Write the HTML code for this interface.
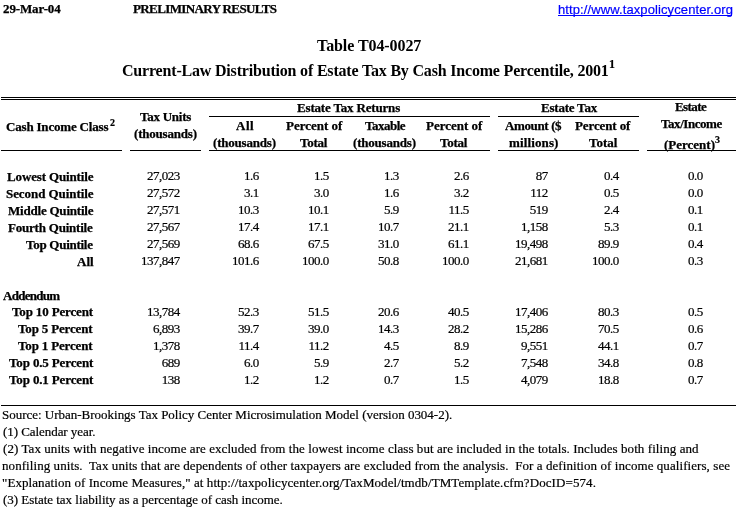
<!DOCTYPE html>
<html><head><meta charset="utf-8"><style>
html,body{margin:0;padding:0;background:#fff;width:736px;height:508px;overflow:hidden;position:relative}
body{will-change:transform}
div{position:absolute;white-space:nowrap;color:#000}
.h{height:1px;background:#000}
</style></head><body>

<div class='h' style='left:558px;top:15px;width:174px;height:1px;background:#0000ff'></div>
<div class='h' style='left:1px;top:97px;width:735px;height:1px'></div>
<div class='h' style='left:1px;top:99px;width:735px;height:1px'></div>
<div class='h' style='left:209px;top:116px;width:281px;height:1px'></div>
<div class='h' style='left:498px;top:116px;width:141px;height:1px'></div>
<div class='h' style='left:1px;top:150px;width:121px;height:1px'></div>
<div class='h' style='left:130px;top:150px;width:71px;height:1px'></div>
<div class='h' style='left:209px;top:150px;width:281px;height:1px'></div>
<div class='h' style='left:498px;top:150px;width:141px;height:1px'></div>
<div class='h' style='left:647px;top:150px;width:89px;height:1px'></div>
<div class='h' style='left:1px;top:405px;width:735px;height:1px'></div>
<div style="left:3.00px;top:2px;font-family:'Liberation Serif', serif;font-size:13px;line-height:13px;font-weight:bold;letter-spacing:-0.125px;-webkit-text-stroke-width:0.25px;">29-Mar-04</div>
<div style="left:133.00px;top:2px;font-family:'Liberation Serif', serif;font-size:13px;line-height:13px;font-weight:bold;letter-spacing:-0.611px;-webkit-text-stroke-width:0.25px;">PRELIMINARY RESULTS</div>
<div style="left:558.00px;top:3px;font-family:'Liberation Sans', sans-serif;font-size:13px;line-height:13px;font-weight:normal;letter-spacing:0.103px;-webkit-text-stroke-width:0.2px;color:#0000ff;">http://www.taxpolicycenter.org</div>
<div style="left:317.00px;top:38px;font-family:'Liberation Serif', serif;font-size:16px;line-height:16px;font-weight:bold;letter-spacing:-0.077px;">Table T04-0027</div>
<div style="left:122.00px;top:63px;font-family:'Liberation Serif', serif;font-size:16px;line-height:16px;font-weight:bold;letter-spacing:-0.188px;">Current-Law Distribution of Estate Tax By Cash Income Percentile, 2001</div>
<div style="left:609.00px;top:58px;font-family:'Liberation Serif', serif;font-size:12px;line-height:12px;font-weight:bold;letter-spacing:0.000px;-webkit-text-stroke-width:0.2px;">1</div>
<div style="left:6.00px;top:120px;font-family:'Liberation Serif', serif;font-size:13px;line-height:13px;font-weight:bold;letter-spacing:-0.188px;-webkit-text-stroke-width:0.25px;">Cash Income Class</div>
<div style="left:110.00px;top:118px;font-family:'Liberation Serif', serif;font-size:10px;line-height:10px;font-weight:bold;letter-spacing:0.000px;-webkit-text-stroke-width:0.2px;">2</div>
<div style="left:140.00px;top:110px;font-family:'Liberation Serif', serif;font-size:13px;line-height:13px;font-weight:bold;letter-spacing:-0.250px;-webkit-text-stroke-width:0.25px;">Tax Units</div>
<div style="left:134.00px;top:127px;font-family:'Liberation Serif', serif;font-size:13px;line-height:13px;font-weight:bold;letter-spacing:-0.200px;-webkit-text-stroke-width:0.25px;">(thousands)</div>
<div style="left:297.00px;top:101px;font-family:'Liberation Serif', serif;font-size:13px;line-height:13px;font-weight:bold;letter-spacing:-0.176px;-webkit-text-stroke-width:0.25px;">Estate Tax Returns</div>
<div style="left:236.00px;top:119px;font-family:'Liberation Serif', serif;font-size:13px;line-height:13px;font-weight:bold;letter-spacing:0.500px;-webkit-text-stroke-width:0.25px;">All</div>
<div style="left:213.00px;top:136px;font-family:'Liberation Serif', serif;font-size:13px;line-height:13px;font-weight:bold;letter-spacing:-0.200px;-webkit-text-stroke-width:0.25px;">(thousands)</div>
<div style="left:286.00px;top:119px;font-family:'Liberation Serif', serif;font-size:13px;line-height:13px;font-weight:bold;letter-spacing:0.000px;-webkit-text-stroke-width:0.25px;">Percent of</div>
<div style="left:300.00px;top:136px;font-family:'Liberation Serif', serif;font-size:13px;line-height:13px;font-weight:bold;letter-spacing:-0.250px;-webkit-text-stroke-width:0.25px;">Total</div>
<div style="left:365.00px;top:119px;font-family:'Liberation Serif', serif;font-size:13px;line-height:13px;font-weight:bold;letter-spacing:-0.500px;-webkit-text-stroke-width:0.25px;">Taxable</div>
<div style="left:353.00px;top:136px;font-family:'Liberation Serif', serif;font-size:13px;line-height:13px;font-weight:bold;letter-spacing:-0.200px;-webkit-text-stroke-width:0.25px;">(thousands)</div>
<div style="left:426.00px;top:119px;font-family:'Liberation Serif', serif;font-size:13px;line-height:13px;font-weight:bold;letter-spacing:0.000px;-webkit-text-stroke-width:0.25px;">Percent of</div>
<div style="left:440.00px;top:136px;font-family:'Liberation Serif', serif;font-size:13px;line-height:13px;font-weight:bold;letter-spacing:-0.250px;-webkit-text-stroke-width:0.25px;">Total</div>
<div style="left:541.00px;top:101px;font-family:'Liberation Serif', serif;font-size:13px;line-height:13px;font-weight:bold;letter-spacing:-0.222px;-webkit-text-stroke-width:0.25px;">Estate Tax</div>
<div style="left:505.00px;top:119px;font-family:'Liberation Serif', serif;font-size:13px;line-height:13px;font-weight:bold;letter-spacing:-0.375px;-webkit-text-stroke-width:0.25px;">Amount ($</div>
<div style="left:509.00px;top:136px;font-family:'Liberation Serif', serif;font-size:13px;line-height:13px;font-weight:bold;letter-spacing:0.125px;-webkit-text-stroke-width:0.25px;">millions)</div>
<div style="left:575.00px;top:119px;font-family:'Liberation Serif', serif;font-size:13px;line-height:13px;font-weight:bold;letter-spacing:-0.111px;-webkit-text-stroke-width:0.25px;">Percent of</div>
<div style="left:589.00px;top:136px;font-family:'Liberation Serif', serif;font-size:13px;line-height:13px;font-weight:bold;letter-spacing:0.000px;-webkit-text-stroke-width:0.25px;">Total</div>
<div style="left:675.00px;top:100px;font-family:'Liberation Serif', serif;font-size:13px;line-height:13px;font-weight:bold;letter-spacing:-0.600px;-webkit-text-stroke-width:0.25px;">Estate</div>
<div style="left:661.00px;top:117px;font-family:'Liberation Serif', serif;font-size:13px;line-height:13px;font-weight:bold;letter-spacing:-0.444px;-webkit-text-stroke-width:0.25px;">Tax/Income</div>
<div style="left:664.00px;top:138px;font-family:'Liberation Serif', serif;font-size:13px;line-height:13px;font-weight:bold;letter-spacing:0.000px;-webkit-text-stroke-width:0.25px;">(Percent)</div>
<div style="left:715.00px;top:135px;font-family:'Liberation Serif', serif;font-size:10px;line-height:10px;font-weight:bold;letter-spacing:0.000px;-webkit-text-stroke-width:0.2px;">3</div>
<div style="left:7.00px;top:170px;font-family:'Liberation Serif', serif;font-size:13px;line-height:13px;font-weight:bold;letter-spacing:-0.143px;-webkit-text-stroke-width:0.25px;">Lowest Quintile</div>
<div style="left:147.00px;top:169px;font-family:'Liberation Serif', serif;font-size:13px;line-height:13px;font-weight:normal;letter-spacing:-0.500px;-webkit-text-stroke-width:0.2px;">27,023</div>
<div style="left:244.00px;top:169px;font-family:'Liberation Serif', serif;font-size:13px;line-height:13px;font-weight:normal;letter-spacing:-0.500px;-webkit-text-stroke-width:0.2px;">1.6</div>
<div style="left:314.00px;top:169px;font-family:'Liberation Serif', serif;font-size:13px;line-height:13px;font-weight:normal;letter-spacing:-0.500px;-webkit-text-stroke-width:0.2px;">1.5</div>
<div style="left:384.00px;top:169px;font-family:'Liberation Serif', serif;font-size:13px;line-height:13px;font-weight:normal;letter-spacing:-0.500px;-webkit-text-stroke-width:0.2px;">1.3</div>
<div style="left:454.00px;top:169px;font-family:'Liberation Serif', serif;font-size:13px;line-height:13px;font-weight:normal;letter-spacing:-0.500px;-webkit-text-stroke-width:0.2px;">2.6</div>
<div style="left:535.75px;top:169px;font-family:'Liberation Serif', serif;font-size:13px;line-height:13px;font-weight:normal;letter-spacing:-0.500px;-webkit-text-stroke-width:0.2px;">87</div>
<div style="left:604.00px;top:169px;font-family:'Liberation Serif', serif;font-size:13px;line-height:13px;font-weight:normal;letter-spacing:-0.500px;-webkit-text-stroke-width:0.2px;">0.4</div>
<div style="left:688.00px;top:169px;font-family:'Liberation Serif', serif;font-size:13px;line-height:13px;font-weight:normal;letter-spacing:-0.500px;-webkit-text-stroke-width:0.2px;">0.0</div>
<div style="left:6.00px;top:187px;font-family:'Liberation Serif', serif;font-size:13px;line-height:13px;font-weight:bold;letter-spacing:-0.071px;-webkit-text-stroke-width:0.25px;">Second Quintile</div>
<div style="left:147.00px;top:186px;font-family:'Liberation Serif', serif;font-size:13px;line-height:13px;font-weight:normal;letter-spacing:-0.500px;-webkit-text-stroke-width:0.2px;">27,572</div>
<div style="left:244.00px;top:186px;font-family:'Liberation Serif', serif;font-size:13px;line-height:13px;font-weight:normal;letter-spacing:-0.500px;-webkit-text-stroke-width:0.2px;">3.1</div>
<div style="left:314.00px;top:186px;font-family:'Liberation Serif', serif;font-size:13px;line-height:13px;font-weight:normal;letter-spacing:-0.500px;-webkit-text-stroke-width:0.2px;">3.0</div>
<div style="left:384.00px;top:186px;font-family:'Liberation Serif', serif;font-size:13px;line-height:13px;font-weight:normal;letter-spacing:-0.500px;-webkit-text-stroke-width:0.2px;">1.6</div>
<div style="left:454.00px;top:186px;font-family:'Liberation Serif', serif;font-size:13px;line-height:13px;font-weight:normal;letter-spacing:-0.500px;-webkit-text-stroke-width:0.2px;">3.2</div>
<div style="left:530.22px;top:186px;font-family:'Liberation Serif', serif;font-size:13px;line-height:13px;font-weight:normal;letter-spacing:-0.500px;-webkit-text-stroke-width:0.2px;">112</div>
<div style="left:604.00px;top:186px;font-family:'Liberation Serif', serif;font-size:13px;line-height:13px;font-weight:normal;letter-spacing:-0.500px;-webkit-text-stroke-width:0.2px;">0.5</div>
<div style="left:688.00px;top:186px;font-family:'Liberation Serif', serif;font-size:13px;line-height:13px;font-weight:normal;letter-spacing:-0.500px;-webkit-text-stroke-width:0.2px;">0.0</div>
<div style="left:8.00px;top:204px;font-family:'Liberation Serif', serif;font-size:13px;line-height:13px;font-weight:bold;letter-spacing:-0.214px;-webkit-text-stroke-width:0.25px;">Middle Quintile</div>
<div style="left:147.00px;top:203px;font-family:'Liberation Serif', serif;font-size:13px;line-height:13px;font-weight:normal;letter-spacing:-0.500px;-webkit-text-stroke-width:0.2px;">27,571</div>
<div style="left:238.00px;top:203px;font-family:'Liberation Serif', serif;font-size:13px;line-height:13px;font-weight:normal;letter-spacing:-0.500px;-webkit-text-stroke-width:0.2px;">10.3</div>
<div style="left:308.00px;top:203px;font-family:'Liberation Serif', serif;font-size:13px;line-height:13px;font-weight:normal;letter-spacing:-0.500px;-webkit-text-stroke-width:0.2px;">10.1</div>
<div style="left:384.00px;top:203px;font-family:'Liberation Serif', serif;font-size:13px;line-height:13px;font-weight:normal;letter-spacing:-0.500px;-webkit-text-stroke-width:0.2px;">5.9</div>
<div style="left:448.47px;top:203px;font-family:'Liberation Serif', serif;font-size:13px;line-height:13px;font-weight:normal;letter-spacing:-0.500px;-webkit-text-stroke-width:0.2px;">11.5</div>
<div style="left:529.75px;top:203px;font-family:'Liberation Serif', serif;font-size:13px;line-height:13px;font-weight:normal;letter-spacing:-0.500px;-webkit-text-stroke-width:0.2px;">519</div>
<div style="left:604.00px;top:203px;font-family:'Liberation Serif', serif;font-size:13px;line-height:13px;font-weight:normal;letter-spacing:-0.500px;-webkit-text-stroke-width:0.2px;">2.4</div>
<div style="left:688.00px;top:203px;font-family:'Liberation Serif', serif;font-size:13px;line-height:13px;font-weight:normal;letter-spacing:-0.500px;-webkit-text-stroke-width:0.2px;">0.1</div>
<div style="left:8.00px;top:221px;font-family:'Liberation Serif', serif;font-size:13px;line-height:13px;font-weight:bold;letter-spacing:-0.214px;-webkit-text-stroke-width:0.25px;">Fourth Quintile</div>
<div style="left:147.00px;top:220px;font-family:'Liberation Serif', serif;font-size:13px;line-height:13px;font-weight:normal;letter-spacing:-0.500px;-webkit-text-stroke-width:0.2px;">27,567</div>
<div style="left:238.00px;top:220px;font-family:'Liberation Serif', serif;font-size:13px;line-height:13px;font-weight:normal;letter-spacing:-0.500px;-webkit-text-stroke-width:0.2px;">17.4</div>
<div style="left:308.00px;top:220px;font-family:'Liberation Serif', serif;font-size:13px;line-height:13px;font-weight:normal;letter-spacing:-0.500px;-webkit-text-stroke-width:0.2px;">17.1</div>
<div style="left:378.00px;top:220px;font-family:'Liberation Serif', serif;font-size:13px;line-height:13px;font-weight:normal;letter-spacing:-0.500px;-webkit-text-stroke-width:0.2px;">10.7</div>
<div style="left:448.00px;top:220px;font-family:'Liberation Serif', serif;font-size:13px;line-height:13px;font-weight:normal;letter-spacing:-0.500px;-webkit-text-stroke-width:0.2px;">21.1</div>
<div style="left:521.00px;top:220px;font-family:'Liberation Serif', serif;font-size:13px;line-height:13px;font-weight:normal;letter-spacing:-0.500px;-webkit-text-stroke-width:0.2px;">1,158</div>
<div style="left:604.00px;top:220px;font-family:'Liberation Serif', serif;font-size:13px;line-height:13px;font-weight:normal;letter-spacing:-0.500px;-webkit-text-stroke-width:0.2px;">5.3</div>
<div style="left:688.00px;top:220px;font-family:'Liberation Serif', serif;font-size:13px;line-height:13px;font-weight:normal;letter-spacing:-0.500px;-webkit-text-stroke-width:0.2px;">0.1</div>
<div style="left:26.00px;top:238px;font-family:'Liberation Serif', serif;font-size:13px;line-height:13px;font-weight:bold;letter-spacing:-0.273px;-webkit-text-stroke-width:0.25px;">Top Quintile</div>
<div style="left:147.00px;top:237px;font-family:'Liberation Serif', serif;font-size:13px;line-height:13px;font-weight:normal;letter-spacing:-0.500px;-webkit-text-stroke-width:0.2px;">27,569</div>
<div style="left:238.00px;top:237px;font-family:'Liberation Serif', serif;font-size:13px;line-height:13px;font-weight:normal;letter-spacing:-0.500px;-webkit-text-stroke-width:0.2px;">68.6</div>
<div style="left:308.00px;top:237px;font-family:'Liberation Serif', serif;font-size:13px;line-height:13px;font-weight:normal;letter-spacing:-0.500px;-webkit-text-stroke-width:0.2px;">67.5</div>
<div style="left:378.00px;top:237px;font-family:'Liberation Serif', serif;font-size:13px;line-height:13px;font-weight:normal;letter-spacing:-0.500px;-webkit-text-stroke-width:0.2px;">31.0</div>
<div style="left:448.00px;top:237px;font-family:'Liberation Serif', serif;font-size:13px;line-height:13px;font-weight:normal;letter-spacing:-0.500px;-webkit-text-stroke-width:0.2px;">61.1</div>
<div style="left:515.00px;top:237px;font-family:'Liberation Serif', serif;font-size:13px;line-height:13px;font-weight:normal;letter-spacing:-0.500px;-webkit-text-stroke-width:0.2px;">19,498</div>
<div style="left:598.00px;top:237px;font-family:'Liberation Serif', serif;font-size:13px;line-height:13px;font-weight:normal;letter-spacing:-0.500px;-webkit-text-stroke-width:0.2px;">89.9</div>
<div style="left:688.00px;top:237px;font-family:'Liberation Serif', serif;font-size:13px;line-height:13px;font-weight:normal;letter-spacing:-0.500px;-webkit-text-stroke-width:0.2px;">0.4</div>
<div style="left:77.00px;top:255px;font-family:'Liberation Serif', serif;font-size:13px;line-height:13px;font-weight:bold;letter-spacing:0.000px;-webkit-text-stroke-width:0.25px;">All</div>
<div style="left:141.00px;top:254px;font-family:'Liberation Serif', serif;font-size:13px;line-height:13px;font-weight:normal;letter-spacing:-0.500px;-webkit-text-stroke-width:0.2px;">137,847</div>
<div style="left:232.00px;top:254px;font-family:'Liberation Serif', serif;font-size:13px;line-height:13px;font-weight:normal;letter-spacing:-0.500px;-webkit-text-stroke-width:0.2px;">101.6</div>
<div style="left:302.00px;top:254px;font-family:'Liberation Serif', serif;font-size:13px;line-height:13px;font-weight:normal;letter-spacing:-0.500px;-webkit-text-stroke-width:0.2px;">100.0</div>
<div style="left:378.00px;top:254px;font-family:'Liberation Serif', serif;font-size:13px;line-height:13px;font-weight:normal;letter-spacing:-0.500px;-webkit-text-stroke-width:0.2px;">50.8</div>
<div style="left:442.00px;top:254px;font-family:'Liberation Serif', serif;font-size:13px;line-height:13px;font-weight:normal;letter-spacing:-0.500px;-webkit-text-stroke-width:0.2px;">100.0</div>
<div style="left:515.00px;top:254px;font-family:'Liberation Serif', serif;font-size:13px;line-height:13px;font-weight:normal;letter-spacing:-0.500px;-webkit-text-stroke-width:0.2px;">21,681</div>
<div style="left:592.00px;top:254px;font-family:'Liberation Serif', serif;font-size:13px;line-height:13px;font-weight:normal;letter-spacing:-0.500px;-webkit-text-stroke-width:0.2px;">100.0</div>
<div style="left:688.00px;top:254px;font-family:'Liberation Serif', serif;font-size:13px;line-height:13px;font-weight:normal;letter-spacing:-0.500px;-webkit-text-stroke-width:0.2px;">0.3</div>
<div style="left:3.00px;top:289px;font-family:'Liberation Serif', serif;font-size:13px;line-height:13px;font-weight:bold;letter-spacing:-0.714px;-webkit-text-stroke-width:0.25px;">Addendum</div>
<div style="left:12.00px;top:305px;font-family:'Liberation Serif', serif;font-size:13px;line-height:13px;font-weight:bold;letter-spacing:-0.154px;-webkit-text-stroke-width:0.25px;">Top 10 Percent</div>
<div style="left:147.00px;top:305px;font-family:'Liberation Serif', serif;font-size:13px;line-height:13px;font-weight:normal;letter-spacing:-0.500px;-webkit-text-stroke-width:0.2px;">13,784</div>
<div style="left:238.00px;top:305px;font-family:'Liberation Serif', serif;font-size:13px;line-height:13px;font-weight:normal;letter-spacing:-0.500px;-webkit-text-stroke-width:0.2px;">52.3</div>
<div style="left:308.00px;top:305px;font-family:'Liberation Serif', serif;font-size:13px;line-height:13px;font-weight:normal;letter-spacing:-0.500px;-webkit-text-stroke-width:0.2px;">51.5</div>
<div style="left:378.00px;top:305px;font-family:'Liberation Serif', serif;font-size:13px;line-height:13px;font-weight:normal;letter-spacing:-0.500px;-webkit-text-stroke-width:0.2px;">20.6</div>
<div style="left:448.00px;top:305px;font-family:'Liberation Serif', serif;font-size:13px;line-height:13px;font-weight:normal;letter-spacing:-0.500px;-webkit-text-stroke-width:0.2px;">40.5</div>
<div style="left:515.00px;top:305px;font-family:'Liberation Serif', serif;font-size:13px;line-height:13px;font-weight:normal;letter-spacing:-0.500px;-webkit-text-stroke-width:0.2px;">17,406</div>
<div style="left:598.00px;top:305px;font-family:'Liberation Serif', serif;font-size:13px;line-height:13px;font-weight:normal;letter-spacing:-0.500px;-webkit-text-stroke-width:0.2px;">80.3</div>
<div style="left:688.00px;top:305px;font-family:'Liberation Serif', serif;font-size:13px;line-height:13px;font-weight:normal;letter-spacing:-0.500px;-webkit-text-stroke-width:0.2px;">0.5</div>
<div style="left:18.00px;top:322px;font-family:'Liberation Serif', serif;font-size:13px;line-height:13px;font-weight:bold;letter-spacing:-0.167px;-webkit-text-stroke-width:0.25px;">Top 5 Percent</div>
<div style="left:153.00px;top:322px;font-family:'Liberation Serif', serif;font-size:13px;line-height:13px;font-weight:normal;letter-spacing:-0.500px;-webkit-text-stroke-width:0.2px;">6,893</div>
<div style="left:238.00px;top:322px;font-family:'Liberation Serif', serif;font-size:13px;line-height:13px;font-weight:normal;letter-spacing:-0.500px;-webkit-text-stroke-width:0.2px;">39.7</div>
<div style="left:308.00px;top:322px;font-family:'Liberation Serif', serif;font-size:13px;line-height:13px;font-weight:normal;letter-spacing:-0.500px;-webkit-text-stroke-width:0.2px;">39.0</div>
<div style="left:378.00px;top:322px;font-family:'Liberation Serif', serif;font-size:13px;line-height:13px;font-weight:normal;letter-spacing:-0.500px;-webkit-text-stroke-width:0.2px;">14.3</div>
<div style="left:448.00px;top:322px;font-family:'Liberation Serif', serif;font-size:13px;line-height:13px;font-weight:normal;letter-spacing:-0.500px;-webkit-text-stroke-width:0.2px;">28.2</div>
<div style="left:515.00px;top:322px;font-family:'Liberation Serif', serif;font-size:13px;line-height:13px;font-weight:normal;letter-spacing:-0.500px;-webkit-text-stroke-width:0.2px;">15,286</div>
<div style="left:598.00px;top:322px;font-family:'Liberation Serif', serif;font-size:13px;line-height:13px;font-weight:normal;letter-spacing:-0.500px;-webkit-text-stroke-width:0.2px;">70.5</div>
<div style="left:688.00px;top:322px;font-family:'Liberation Serif', serif;font-size:13px;line-height:13px;font-weight:normal;letter-spacing:-0.500px;-webkit-text-stroke-width:0.2px;">0.6</div>
<div style="left:18.00px;top:339px;font-family:'Liberation Serif', serif;font-size:13px;line-height:13px;font-weight:bold;letter-spacing:-0.167px;-webkit-text-stroke-width:0.25px;">Top 1 Percent</div>
<div style="left:153.00px;top:339px;font-family:'Liberation Serif', serif;font-size:13px;line-height:13px;font-weight:normal;letter-spacing:-0.500px;-webkit-text-stroke-width:0.2px;">1,378</div>
<div style="left:238.47px;top:339px;font-family:'Liberation Serif', serif;font-size:13px;line-height:13px;font-weight:normal;letter-spacing:-0.500px;-webkit-text-stroke-width:0.2px;">11.4</div>
<div style="left:308.47px;top:339px;font-family:'Liberation Serif', serif;font-size:13px;line-height:13px;font-weight:normal;letter-spacing:-0.500px;-webkit-text-stroke-width:0.2px;">11.2</div>
<div style="left:384.00px;top:339px;font-family:'Liberation Serif', serif;font-size:13px;line-height:13px;font-weight:normal;letter-spacing:-0.500px;-webkit-text-stroke-width:0.2px;">4.5</div>
<div style="left:454.00px;top:339px;font-family:'Liberation Serif', serif;font-size:13px;line-height:13px;font-weight:normal;letter-spacing:-0.500px;-webkit-text-stroke-width:0.2px;">8.9</div>
<div style="left:521.00px;top:339px;font-family:'Liberation Serif', serif;font-size:13px;line-height:13px;font-weight:normal;letter-spacing:-0.500px;-webkit-text-stroke-width:0.2px;">9,551</div>
<div style="left:598.00px;top:339px;font-family:'Liberation Serif', serif;font-size:13px;line-height:13px;font-weight:normal;letter-spacing:-0.500px;-webkit-text-stroke-width:0.2px;">44.1</div>
<div style="left:688.00px;top:339px;font-family:'Liberation Serif', serif;font-size:13px;line-height:13px;font-weight:normal;letter-spacing:-0.500px;-webkit-text-stroke-width:0.2px;">0.7</div>
<div style="left:9.00px;top:356px;font-family:'Liberation Serif', serif;font-size:13px;line-height:13px;font-weight:bold;letter-spacing:-0.143px;-webkit-text-stroke-width:0.25px;">Top 0.5 Percent</div>
<div style="left:161.75px;top:356px;font-family:'Liberation Serif', serif;font-size:13px;line-height:13px;font-weight:normal;letter-spacing:-0.500px;-webkit-text-stroke-width:0.2px;">689</div>
<div style="left:244.00px;top:356px;font-family:'Liberation Serif', serif;font-size:13px;line-height:13px;font-weight:normal;letter-spacing:-0.500px;-webkit-text-stroke-width:0.2px;">6.0</div>
<div style="left:314.00px;top:356px;font-family:'Liberation Serif', serif;font-size:13px;line-height:13px;font-weight:normal;letter-spacing:-0.500px;-webkit-text-stroke-width:0.2px;">5.9</div>
<div style="left:384.00px;top:356px;font-family:'Liberation Serif', serif;font-size:13px;line-height:13px;font-weight:normal;letter-spacing:-0.500px;-webkit-text-stroke-width:0.2px;">2.7</div>
<div style="left:454.00px;top:356px;font-family:'Liberation Serif', serif;font-size:13px;line-height:13px;font-weight:normal;letter-spacing:-0.500px;-webkit-text-stroke-width:0.2px;">5.2</div>
<div style="left:521.00px;top:356px;font-family:'Liberation Serif', serif;font-size:13px;line-height:13px;font-weight:normal;letter-spacing:-0.500px;-webkit-text-stroke-width:0.2px;">7,548</div>
<div style="left:598.00px;top:356px;font-family:'Liberation Serif', serif;font-size:13px;line-height:13px;font-weight:normal;letter-spacing:-0.500px;-webkit-text-stroke-width:0.2px;">34.8</div>
<div style="left:688.00px;top:356px;font-family:'Liberation Serif', serif;font-size:13px;line-height:13px;font-weight:normal;letter-spacing:-0.500px;-webkit-text-stroke-width:0.2px;">0.8</div>
<div style="left:9.00px;top:373px;font-family:'Liberation Serif', serif;font-size:13px;line-height:13px;font-weight:bold;letter-spacing:-0.143px;-webkit-text-stroke-width:0.25px;">Top 0.1 Percent</div>
<div style="left:161.75px;top:373px;font-family:'Liberation Serif', serif;font-size:13px;line-height:13px;font-weight:normal;letter-spacing:-0.500px;-webkit-text-stroke-width:0.2px;">138</div>
<div style="left:244.00px;top:373px;font-family:'Liberation Serif', serif;font-size:13px;line-height:13px;font-weight:normal;letter-spacing:-0.500px;-webkit-text-stroke-width:0.2px;">1.2</div>
<div style="left:314.00px;top:373px;font-family:'Liberation Serif', serif;font-size:13px;line-height:13px;font-weight:normal;letter-spacing:-0.500px;-webkit-text-stroke-width:0.2px;">1.2</div>
<div style="left:384.00px;top:373px;font-family:'Liberation Serif', serif;font-size:13px;line-height:13px;font-weight:normal;letter-spacing:-0.500px;-webkit-text-stroke-width:0.2px;">0.7</div>
<div style="left:454.00px;top:373px;font-family:'Liberation Serif', serif;font-size:13px;line-height:13px;font-weight:normal;letter-spacing:-0.500px;-webkit-text-stroke-width:0.2px;">1.5</div>
<div style="left:521.00px;top:373px;font-family:'Liberation Serif', serif;font-size:13px;line-height:13px;font-weight:normal;letter-spacing:-0.500px;-webkit-text-stroke-width:0.2px;">4,079</div>
<div style="left:598.00px;top:373px;font-family:'Liberation Serif', serif;font-size:13px;line-height:13px;font-weight:normal;letter-spacing:-0.500px;-webkit-text-stroke-width:0.2px;">18.8</div>
<div style="left:688.00px;top:373px;font-family:'Liberation Serif', serif;font-size:13px;line-height:13px;font-weight:normal;letter-spacing:-0.500px;-webkit-text-stroke-width:0.2px;">0.7</div>
<div style="left:2.00px;top:408px;font-family:'Liberation Serif', serif;font-size:13px;line-height:13px;font-weight:normal;letter-spacing:-0.013px;-webkit-text-stroke-width:0.2px;">Source: Urban-Brookings Tax Policy Center Microsimulation Model (version 0304-2).</div>
<div style="left:3.00px;top:425px;font-family:'Liberation Serif', serif;font-size:13px;line-height:13px;font-weight:normal;letter-spacing:-0.059px;-webkit-text-stroke-width:0.2px;">(1) Calendar year.</div>
<div style="left:3.00px;top:442px;font-family:'Liberation Serif', serif;font-size:13px;line-height:13px;font-weight:normal;letter-spacing:0.068px;-webkit-text-stroke-width:0.2px;">(2) Tax units with negative income are excluded from the lowest income class but are included in the totals. Includes both filing and</div>
<div style="left:2.00px;top:459px;font-family:'Liberation Serif', serif;font-size:13px;line-height:13px;font-weight:normal;letter-spacing:0.071px;-webkit-text-stroke-width:0.2px;">nonfiling units.&nbsp; Tax units that are dependents of other taxpayers are excluded from the analysis.&nbsp; For a definition of income qualifiers, see</div>
<div style="left:2.00px;top:476px;font-family:'Liberation Serif', serif;font-size:13px;line-height:13px;font-weight:normal;letter-spacing:0.078px;-webkit-text-stroke-width:0.2px;">"Explanation of Income Measures," at http://taxpolicycenter.org/TaxModel/tmdb/TMTemplate.cfm?DocID=574.</div>
<div style="left:3.00px;top:493px;font-family:'Liberation Serif', serif;font-size:13px;line-height:13px;font-weight:normal;letter-spacing:-0.018px;-webkit-text-stroke-width:0.2px;">(3) Estate tax liability as a percentage of cash income.</div>
</body></html>
